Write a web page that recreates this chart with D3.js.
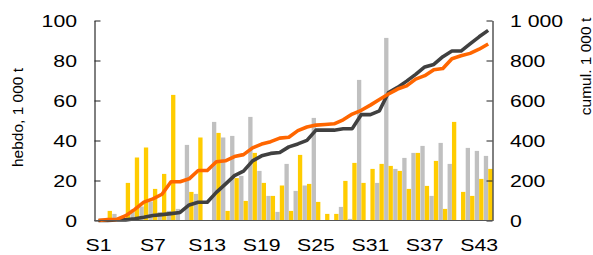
<!DOCTYPE html>
<html>
<head>
<meta charset="utf-8">
<script src="https://cdn.jsdelivr.net/npm/d3@7"></script>
<style>
  html, body { margin: 0; padding: 0; background: #fff; }
  svg { display: block; }
  text { font-family: "Liberation Sans", Arial, sans-serif; fill: #000; }
</style>
</head>
<body>
<svg id="chart" width="593" height="255"></svg>
<script>
// ---- Data ----
const weeks = ["S1","S2","S3","S4","S5","S6","S7","S8","S9","S10","S11","S12","S13","S14","S15",
  "S16","S17","S18","S19","S20","S21","S22","S23","S24","S25","S26","S27","S28","S29","S30",
  "S31","S32","S33","S34","S35","S36","S37","S38","S39","S40","S41","S42","S43","S44"];
// weekly values (1 000 t) - grey series
const hebdoGris = [0, 0, 3.3, 0, 5.5, 7, 9.5, 4.2, 4.8, 5.8, 37.8, 13.3, 0, 49.3, 41.5,
  42.3, 22.3, 51.8, 24.8, 12.3, 4.3, 28.3, 14.8, 17.5, 51.3, 0, 0, 6.8, 0.8, 70.3,
  0, 18.8, 91.3, 25.8, 31.3, 33.8, 37.3, 12.3, 38.8, 28.3, 0, 36.3, 34.8, 32.3];
// weekly values (1 000 t) - yellow series
const hebdoJaune = [0, 4.8, 0.5, 18.8, 31.5, 36.5, 15.8, 23.3, 62.8, 0, 14.3, 41.5, 0, 43.8, 4.8,
  21.2, 9.8, 33.8, 18.8, 12.3, 17.5, 4.8, 32.8, 18.3, 9.3, 3.3, 3.3, 19.8, 28.8, 18.8,
  25.8, 28.3, 27.3, 24.8, 15.8, 33.8, 17.3, 29.8, 5.8, 49.3, 14.3, 12.3, 20.8, 25.8];
const xTickLabels = ["S1","S7","S13","S19","S25","S31","S37","S43"];
const leftTicks = [0, 20, 40, 60, 80, 100];
const rightTicks = [0, 200, 400, 600, 800, 1000];
const rightTickLabels = ["0", "200", "400", "600", "800", "1 000"];
const leftTitle = "hebdo, 1 000 t";
const rightTitle = "cumul. 1 000 t";

// cumulative series (right axis) from weekly values
const cumulGris = Array.from(d3.cumsum(hebdoGris));
const cumulJaune = Array.from(d3.cumsum(hebdoJaune));

// ---- Layout ----
const L = 94.5, R = 492.5, T = 20.5, B = 220.5;
const svg = d3.select("#chart");

const x = d3.scaleBand().domain(weeks).range([L - 0.5, R + 0.2]).padding(0);
const sub = d3.scaleBand().domain(["g", "j"]).range([0, x.bandwidth()]).paddingInner(0.02).paddingOuter(0.04);
const yL = d3.scaleLinear().domain([0, 100]).range([B, T]);
const yR = d3.scaleLinear().domain([0, 1000]).range([B, T]);

const colGris = "#c0c0c0", colJaune = "#ffcc00", colOrange = "#ff6600", colNoir = "#404040";
const SX = 1.25; // horizontal stretch of tick labels

// bars
const gBars = svg.append("g");
gBars.selectAll("rect.g").data(weeks).join("rect")
  .attr("x", d => x(d) + sub("g"))
  .attr("width", sub.bandwidth())
  .attr("y", (d, i) => yL(hebdoGris[i]))
  .attr("height", (d, i) => B - yL(hebdoGris[i]))
  .attr("fill", colGris);
gBars.selectAll("rect.j").data(weeks).join("rect")
  .attr("x", d => x(d) + sub("j"))
  .attr("width", sub.bandwidth())
  .attr("y", (d, i) => yL(hebdoJaune[i]))
  .attr("height", (d, i) => B - yL(hebdoJaune[i]))
  .attr("fill", colJaune);

// cumulative lines
const line = d3.line()
  .x((d, i) => x(weeks[i]) + x.bandwidth() / 2)
  .y(d => yR(d));
svg.append("path").datum(cumulGris)
  .attr("d", line).attr("fill", "none")
  .attr("stroke", colNoir).attr("stroke-width", 3.6).attr("stroke-linejoin", "round");
svg.append("path").datum(cumulJaune)
  .attr("d", line).attr("fill", "none")
  .attr("stroke", colOrange).attr("stroke-width", 3.6).attr("stroke-linejoin", "round");

// left axis
const axL = svg.append("g").attr("transform", `translate(${L},0)`)
  .call(d3.axisLeft(yL).tickValues(leftTicks).tickSizeInner(-6).tickSizeOuter(0).tickPadding(0));
axL.select(".domain").attr("stroke", "#000");
axL.selectAll(".tick line").attr("stroke", "#222");
axL.selectAll(".tick text")
  .attr("font-size", 17).attr("font-family", "Liberation Sans, Arial, sans-serif")
  .attr("text-anchor", "end").attr("x", -17.5 / SX).attr("dy", "0.36em")
  .attr("transform", `scale(${SX},1)`);

// right axis
const axR = svg.append("g").attr("transform", `translate(${R},0)`)
  .call(d3.axisRight(yR).tickValues(rightTicks).tickFormat((d, i) => rightTickLabels[i])
    .tickSizeInner(-6).tickSizeOuter(0).tickPadding(0));
axR.select(".domain").attr("stroke", "#000");
axR.selectAll(".tick line").attr("stroke", "#222");
axR.selectAll(".tick text")
  .attr("font-size", 17).attr("font-family", "Liberation Sans, Arial, sans-serif")
  .attr("text-anchor", "start").attr("x", 17.5 / SX).attr("dy", "0.36em")
  .attr("transform", `scale(${SX},1)`);

// bottom axis
const axB = svg.append("g").attr("transform", `translate(0,${B})`)
  .call(d3.axisBottom(x).tickValues(xTickLabels).tickSize(0).tickPadding(0));
axB.select(".domain").attr("stroke", "#555").attr("d", `M${L},0H${R}`);
axB.selectAll(".tick text")
  .attr("font-size", 17).attr("font-family", "Liberation Sans, Arial, sans-serif")
  .attr("y", 30.5).attr("dy", 0)
  .attr("transform", `scale(${SX},1)`)
  .attr("x", 0);
axB.selectAll(".tick").attr("transform", d => `translate(${x(d) + x.bandwidth() / 2},0)`);

// titles
svg.append("text")
  .attr("transform", "translate(22.5,117.5) rotate(-90)")
  .attr("text-anchor", "middle").attr("font-size", 15.5)
  .text(leftTitle);
svg.append("text")
  .attr("transform", "translate(590.5,66.5) rotate(-90)")
  .attr("text-anchor", "middle").attr("font-size", 15.5)
  .text(rightTitle);
</script>
</body>
</html>
